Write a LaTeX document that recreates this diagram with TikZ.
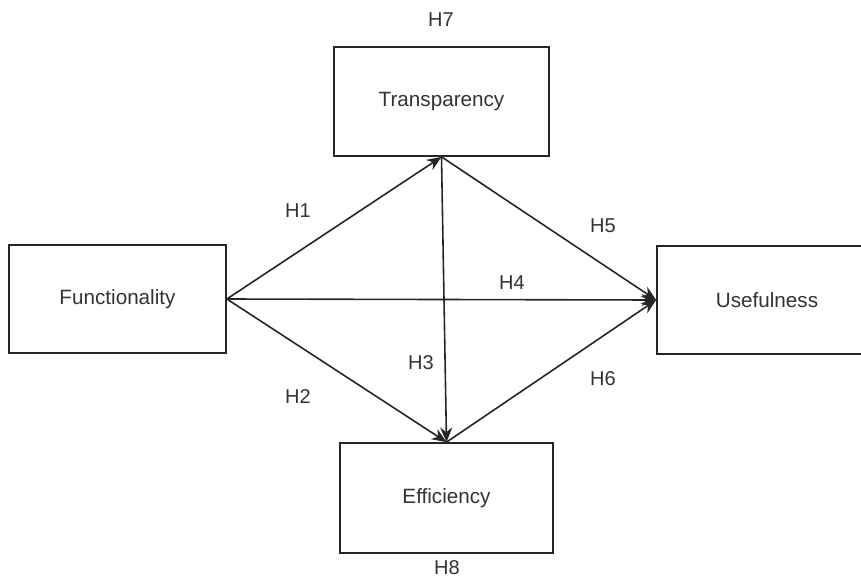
\documentclass[tikz,border=0pt]{standalone}
\usepackage{fontspec}
\setmainfont{Liberation Sans}
\usetikzlibrary{arrows.meta}
\begin{document}
\begin{tikzpicture}[x=0.75pt,y=-0.75pt,
  box/.style={draw=black!85, line width=1.3pt, fill=white, inner sep=0pt, font=\fontsize{15.5}{18}\selectfont, text=black!80},
  lbl/.style={inner sep=0pt, font=\fontsize{15}{18}\selectfont, text=black!80},
  conn/.style={draw=black!85, line width=1.2pt, -{Stealth[length=11pt,width=9pt]}}]
\useasboundingbox (0,0) rectangle (861,579);
\node[box, minimum width=161.25pt, minimum height=81.75pt] (T) at (441.5,101.5) {Transparency};
\node[box, minimum width=162.75pt, minimum height=81pt] (F) at (117.5,299) {Functionality};
\node[box, minimum width=165pt, minimum height=81pt] (U) at (767,300) {Usefulness};
\node[box, minimum width=159.75pt, minimum height=82.5pt] (E) at (446.5,498) {Efficiency};
\draw[conn] (F.east) -- (T.south);
\draw[conn] (F.east) -- (E.north);
\draw[conn] (F.east) -- (U.west);
\draw[conn] (T.south) -- (U.west);
\draw[conn] (T.south) -- (E.north);
\draw[conn] (E.north) -- (U.west);
\node[lbl] (h7) at (441,20) {H7};
\node[lbl] (h8) at (447,568) {H8};
\node[lbl] (h1) at (298,211) {H1};
\node[lbl] (h2) at (298,397) {H2};
\node[lbl] (h3) at (421,363) {H3};
\node[lbl] (h4) at (512,283) {H4};
\node[lbl] (h5) at (603,226) {H5};
\node[lbl] (h6) at (603,379) {H6};
\end{tikzpicture}
\end{document}
